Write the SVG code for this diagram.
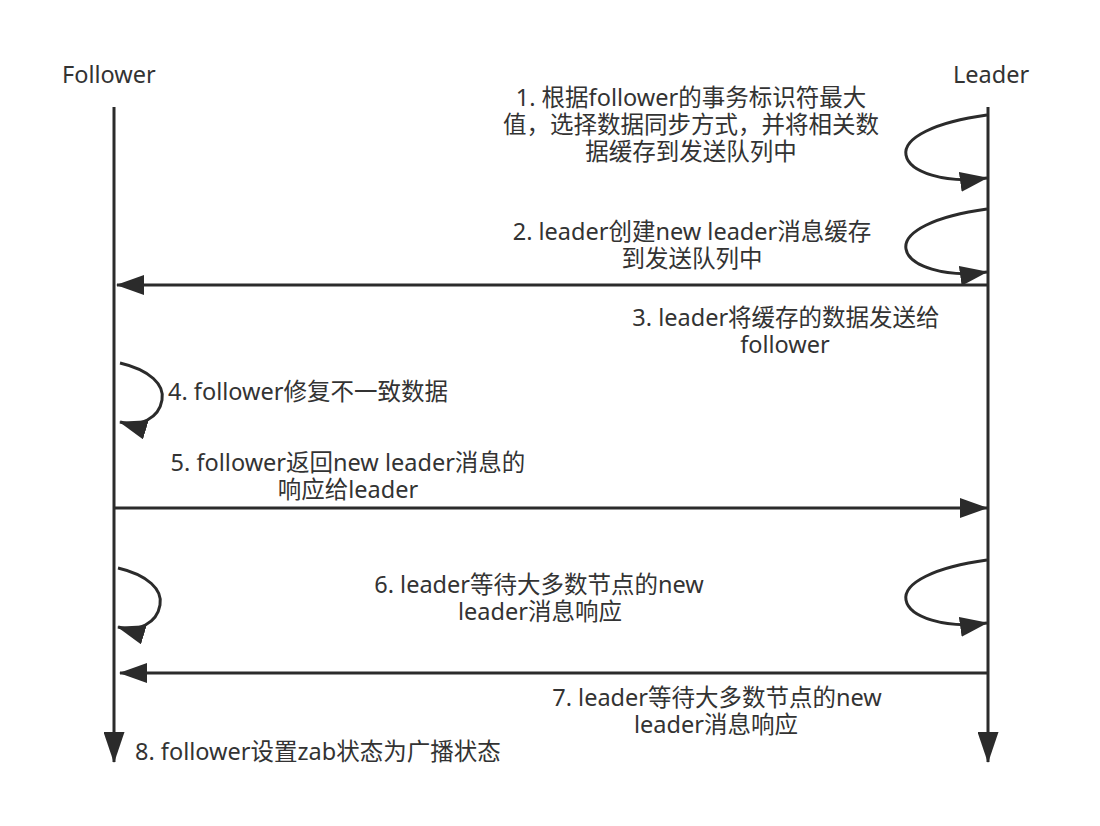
<svg xmlns="http://www.w3.org/2000/svg" width="1100" height="826" viewBox="0 0 1100 826">
<style>
.t{font-family:"Noto Sans","Noto Sans CJK SC",sans-serif;font-size:23.5px;fill:#333}
.m{text-anchor:middle}
.life{stroke:#2b2b2b;stroke-width:3;fill:none}
.ln{stroke:#2b2b2b;stroke-width:3;fill:none}
</style>
<defs>
<marker id="ah" markerUnits="userSpaceOnUse" markerWidth="28" markerHeight="20" refX="27" refY="10" orient="auto" viewBox="0 0 28 20">
<path d="M0,0 L28,10 L0,20 z" fill="#2b2b2b"/>
</marker>
<marker id="lh" markerUnits="userSpaceOnUse" markerWidth="31" markerHeight="21" refX="30" refY="10.5" orient="auto" viewBox="0 0 31 21">
<path d="M0,0 L31,10.5 L0,21 z" fill="#2b2b2b"/>
</marker>
</defs>
<rect width="1100" height="826" fill="#ffffff"/>

<g id="follower">
<text class="t" x="62" y="83">Follower</text>
<line class="life" x1="114" y1="107" x2="114" y2="762" marker-end="url(#lh)"/>
</g>
<g id="leader">
<text class="t" x="953" y="83">Leader</text>
<line class="life" x1="988" y1="107" x2="988" y2="762" marker-end="url(#lh)"/>
</g>

<g id="connectors">
<path class="ln" d="M987,115 C935,122 903,138 906,155 C909,172 945,184 987,178" marker-end="url(#ah)"/>
<path class="ln" d="M987,209 C935,216 903,232 906,249 C909,266 945,278 987,272" marker-end="url(#ah)"/>
<line class="ln" x1="987" y1="285" x2="117" y2="285" marker-end="url(#ah)"/>
<path class="ln" d="M120,363 C150,370 165,385 162,400 C159,418 140,428 120,422" marker-end="url(#ah)"/>
<line class="ln" x1="114" y1="508" x2="987" y2="508" marker-end="url(#ah)"/>
<path class="ln" d="M118,568 C148,575 163,590 160,605 C157,623 138,633 118,627" marker-end="url(#ah)"/>
<path class="ln" d="M987,560 C935,567 903,583 906,600 C909,617 945,629 987,623" marker-end="url(#ah)"/>
<line class="ln" x1="988" y1="673" x2="120" y2="673" marker-end="url(#ah)"/>
</g>

<g id="label1">
<text class="t m"><tspan x="691" y="106">1. 根据follower的事务标识符最大</tspan><tspan x="691" y="133">值，选择数据同步方式，并将相关数</tspan><tspan x="691" y="160">据缓存到发送队列中</tspan></text>
</g>
<g id="label2">
<text class="t m"><tspan x="692" y="240">2. leader创建new leader消息缓存</tspan><tspan x="692" y="267">到发送队列中</tspan></text>
</g>
<g id="label3">
<text class="t m"><tspan x="786" y="326">3. leader将缓存的数据发送给</tspan><tspan x="785" y="353">follower</tspan></text>
</g>
<g id="label4">
<text class="t" x="168" y="400">4. follower修复不一致数据</text>
</g>
<g id="label5">
<text class="t m"><tspan x="348" y="471">5. follower返回new leader消息的</tspan><tspan x="348" y="498">响应给leader</tspan></text>
</g>
<g id="label6">
<text class="t m"><tspan x="539" y="593">6. leader等待大多数节点的new</tspan><tspan x="540" y="620">leader消息响应</tspan></text>
</g>
<g id="label7">
<text class="t m"><tspan x="717" y="706">7. leader等待大多数节点的new</tspan><tspan x="716" y="733">leader消息响应</tspan></text>
</g>
<g id="label8">
<text class="t" x="135" y="760">8. follower设置zab状态为广播状态</text>
</g>
</svg>
